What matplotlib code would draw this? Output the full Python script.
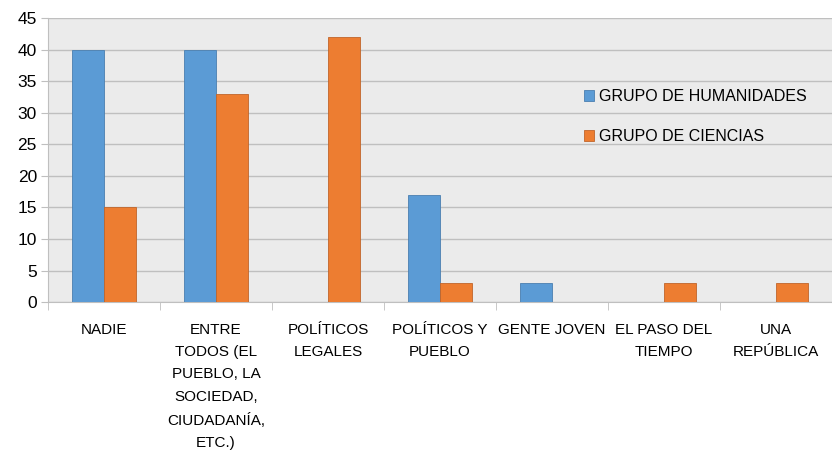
import matplotlib.pyplot as plt
import numpy as np

categories = [
    "NADIE",
    "ENTRE\nTODOS (EL\nPUEBLO, LA\nSOCIEDAD,\nCIUDADANÍA,\nETC.)",
    "POLÍTICOS\nLEGALES",
    "POLÍTICOS Y\nPUEBLO",
    "GENTE JOVEN",
    "EL PASO DEL\nTIEMPO",
    "UNA\nREPÚBLICA",
]
humanidades = [40, 40, 0, 17, 3, 0, 0]
ciencias = [15, 33, 42, 3, 0, 3, 3]
series_names = ["GRUPO DE HUMANIDADES", "GRUPO DE CIENCIAS"]

plt.rcParams["font.family"] = ["Liberation Sans", "DejaVu Sans"]
plt.rcParams["font.size"] = 11

fig = plt.figure(figsize=(8.32, 4.57), dpi=100)
ax = fig.add_axes([0.0577, 0.339, 0.9423, 0.6214])
ax.set_facecolor("#EBEBEB")

x = np.arange(len(categories))
w = 0.29
ax.bar(x - w / 2, humanidades, w, color="#5B9BD5", edgecolor="#4A7FB0",
       linewidth=0.6, label=series_names[0], zorder=3)
ax.bar(x + w / 2, ciencias, w, color="#ED7D31", edgecolor="#C0652A",
       linewidth=0.6, label=series_names[1], zorder=3)

ax.set_xlim(-0.5, len(categories) - 0.5)
ax.set_ylim(0, 45)
ax.set_yticks(np.arange(0, 46, 5))
ax.yaxis.grid(True, color="#BFBFBF", linewidth=1.0, zorder=0)
ax.tick_params(axis="y", length=5, color="#BFBFBF", labelsize=12.5, pad=3)

ax.set_xticks(x)
ax.set_xticklabels(categories, fontsize=11, linespacing=1.75, va="top")
ax.set_xticks(np.arange(-0.5, len(categories)), minor=True)
ax.tick_params(axis="x", which="major", length=0, pad=15)
ax.tick_params(axis="x", which="minor", length=6, color="#BFBFBF")

for s in ["top", "right"]:
    ax.spines[s].set_visible(False)
ax.spines["left"].set_color("#BFBFBF")
ax.spines["bottom"].set_color("#BFBFBF")

ax.legend(loc="upper left", bbox_to_anchor=(0.665, 0.8), frameon=False,
          fontsize=11.5, labelspacing=1.55, handlelength=0.65, handleheight=0.65,
          handletextpad=0.3)

fig.savefig("out.png", dpi=100)
